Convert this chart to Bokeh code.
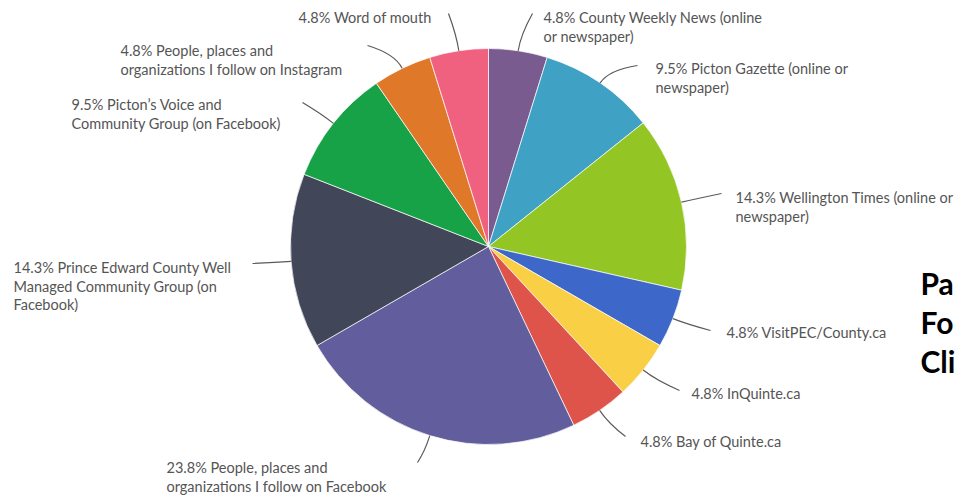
import math
from bokeh.plotting import figure
from bokeh.models import ColumnDataSource, Range1d
from bokeh.core.properties import value
from bokeh.embed import file_html
from bokeh.resources import INLINE

# Survey: where respondents get their local news (share of responses, %)
categories = [
    "County Weekly News (online or newspaper)",
    "Picton Gazette (online or newspaper)",
    "Wellington Times (online or newspaper)",
    "VisitPEC/County.ca",
    "InQuinte.ca",
    "Bay of Quinte.ca",
    "People, places and organizations I follow on Facebook",
    "Prince Edward County Well Managed Community Group (on Facebook)",
    "Picton's Voice and Community Group (on Facebook)",
    "People, places and organizations I follow on Instagram",
    "Word of mouth",
]
percentages = [4.8, 9.5, 14.3, 4.8, 4.8, 4.8, 23.8, 14.3, 9.5, 4.8, 4.8]
colors = ["#7a5b8f", "#3fa2c4", "#93c524", "#3d68c9", "#f9cf45", "#de544b",
          "#625d9c", "#424659", "#17a247", "#e0782a", "#f0607f"]

# Label lines shown beside each slice (percentage prefixed to the first line)
label_lines = [
    ["County Weekly News (online", "or newspaper)"],
    ["Picton Gazette (online or", "newspaper)"],
    ["Wellington Times (online or", "newspaper)"],
    ["VisitPEC/County.ca"],
    ["InQuinte.ca"],
    ["Bay of Quinte.ca"],
    ["People, places and", "organizations I follow on Facebook"],
    ["Prince Edward County Well", "Managed Community Group (on", "Facebook)"],
    ["Picton\u2019s Voice and", "Community Group (on Facebook)"],
    ["People, places and", "organizations I follow on Instagram"],
    ["Word of mouth"],
]

side_text = ["Pa", "Fo", "Cli"]

W, H = 959, 495

def sy(y):
    return H - y

# layout: pie centre / radius in screen pixels
CX, CY, R = 488, sy(246), 198

# layout: label text origin (left x, first line centre y) and connector end
label_pos = [(543, 17), (655, 68), (735, 197), (726, 332), (691, 393), (640, 441),
             (166, 467), (13, 267), (71, 104), (120, 50), (298, 17)]
leader_end = [(532, 13), (637, 65), (721, 193), (710, 330), (679, 390), (625, 436),
              (417, 462), (252, 263), (302, 102), (367, 45), (448, 13)]
LINE_H = 18.5

total = sum(percentages)
starts, ends, mids = [], [], []
acc = 0.0
for v in percentages:
    f0 = acc / total
    acc += v
    f1 = acc / total
    starts.append(math.pi / 2 - 2 * math.pi * f1)
    ends.append(math.pi / 2 - 2 * math.pi * f0)
    mids.append(math.pi / 2 - 2 * math.pi * (f0 + f1) / 2)

src = ColumnDataSource(dict(category=categories, pct=percentages, color=colors,
                            start=starts, end=ends))

p = figure(width=W, height=H, output_backend="svg", toolbar_location=None,
           x_range=Range1d(0, W), y_range=Range1d(0, H),
           x_axis_type=None, y_axis_type=None, min_border=0)
p.outline_line_color = None
p.grid.visible = False
p.background_fill_color = "white"
p.border_fill_color = "white"

p.wedge(x=CX, y=CY, radius=R, start_angle="start", end_angle="end",
        direction="anticlock", fill_color="color", line_color="white",
        line_width=0.7, source=src)

# connectors: leave the slice edge radially, then bend towards the label
x0, y0, x1, y1, cxs, cys = [], [], [], [], [], []
for m, (ex, ey) in zip(mids, leader_end):
    dx, dy = math.cos(m), math.sin(m)
    x0.append(CX + R * dx)
    y0.append(CY + R * dy)
    cxs.append(CX + (R + 16) * dx)
    cys.append(CY + (R + 16) * dy)
    x1.append(ex)
    y1.append(sy(ey))
p.quadratic(x0=x0, y0=y0, x1=x1, y1=y1, cx=cxs, cy=cys,
            line_color="#5a5a5a", line_width=1.2)

tx, ty, tt = [], [], []
for v, lines, (lx, ly) in zip(percentages, label_lines, label_pos):
    for i, line in enumerate(lines):
        tx.append(lx)
        ty.append(sy(ly + i * LINE_H))
        tt.append((f"{v}% " + line) if i == 0 else line)
p.text(x=tx, y=ty, text=tt, text_font=value("Lato"), text_font_size="14.5px",
       text_color="#555555", text_baseline="middle", text_align="left")

p.text(x=[920, 920, 920], y=[sy(282), sy(321), sy(360)], text=side_text,
       text_font=value("Lato"), text_font_style="bold", text_font_size="30px",
       text_color="#000000", text_baseline="middle", text_align="left")

open("out.html", "w").write(file_html(p, INLINE))
